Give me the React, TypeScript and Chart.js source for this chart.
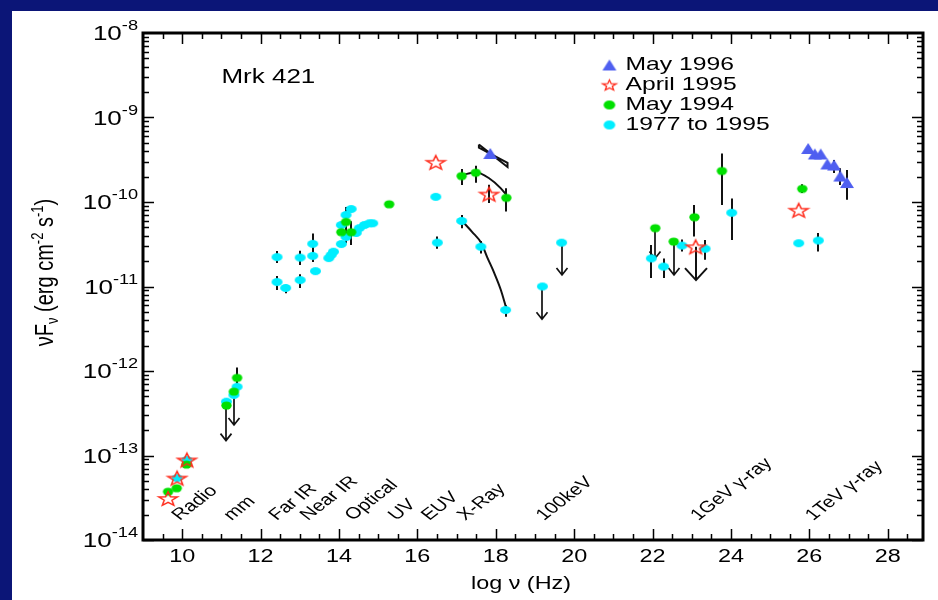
import React, { useEffect, useRef } from 'react';
import { Chart, registerables } from 'chart.js';

Chart.register(...registerables);

// ---------------- data ----------------
// May 1996 (blue triangles)
const may96X = [17.86, 25.97, 26.14, 26.29, 26.46, 26.63, 26.79, 26.96];
const may96Y = [3.75e-10, 4.3e-10, 3.7e-10, 3.7e-10, 2.82e-10, 2.74e-10, 2.03e-10, 1.7e-10];

// April 1995 (red open stars)
const apr95X = [9.64, 9.87, 10.12, 16.47, 17.83, 23.1, 25.73];
const apr95Y = [3.1e-14, 5.4e-14, 8.85e-14, 2.95e-10, 1.24e-10, 2.95e-11, 8.0e-11];

// May 1994 (green)
const may94X = [9.64, 9.86, 10.11, 11.13, 11.32, 11.4, 14.06, 14.18, 14.31, 15.28, 17.13, 17.49, 18.27, 22.07, 22.54, 23.07, 23.77, 25.82];
const may94Y = [3.73e-14, 4.1e-14, 7.8e-14, 3.9e-13, 5.7e-13, 8.3e-13, 4.4e-11, 5.8e-11, 4.4e-11, 9.4e-11, 2.03e-10, 2.22e-10, 1.12e-10, 4.9e-11, 3.4e-11, 6.6e-11, 2.33e-10, 1.43e-10];

// 1977 to 1995 (cyan)
const histX = [9.87, 10.12, 11.13, 11.32, 11.4, 12.42, 12.42, 12.64, 13.01, 13.01, 13.33, 13.33, 13.4, 13.74, 13.8, 13.86, 14.06, 14.06, 14.18, 14.31, 14.18, 14.44, 14.52, 14.65, 14.78, 14.86, 16.47, 16.51, 17.13, 17.62, 18.25, 19.19, 19.68, 21.97, 22.28, 22.75, 23.34, 24.02, 25.73, 26.23];
const histY = [5.4e-14, 8.85e-14, 4.34e-13, 5.2e-13, 6.5e-13, 2.23e-11, 1.13e-11, 9.6e-12, 2.2e-11, 1.19e-11, 3.2e-11, 2.3e-11, 1.52e-11, 2.17e-11, 2.36e-11, 2.58e-11, 3.18e-11, 5.34e-11, 7.02e-11, 8.26e-11, 3.85e-11, 4.3e-11, 4.9e-11, 5.34e-11, 5.6e-11, 5.6e-11, 1.15e-10, 3.3e-11, 5.96e-11, 2.95e-11, 5.27e-12, 1.0e-11, 3.3e-11, 2.15e-11, 1.72e-11, 3.05e-11, 2.8e-11, 7.45e-11, 3.25e-11, 3.5e-11];

// error bars
const errX = [26.63, 26.79, 26.96, 17.83, 11.4, 14.18, 14.31, 17.13, 17.49, 18.27, 23.07, 23.77, 25.82, 12.42, 12.42, 12.64, 13.01, 13.01, 13.33, 13.33, 16.51, 17.13, 17.62, 18.25, 21.97, 22.28, 22.75, 23.34, 24.02, 26.23];
const errLo = [2.2e-10, 1.59e-10, 1.06e-10, 9.7e-11, 5.9e-13, 3.25e-11, 3.1e-11, 1.59e-10, 1.69e-10, 7.7e-11, 3.9e-11, 9.2e-11, 1.28e-10, 1.9e-11, 9.1e-12, 8.3e-12, 1.8e-11, 9.6e-12, 2.6e-11, 1.95e-11, 2.8e-11, 4.9e-11, 2.45e-11, 4.4e-12, 1.26e-11, 1.26e-11, 2.6e-11, 2.07e-11, 3.56e-11, 2.6e-11];
const errHi = [3.15e-10, 2.5e-10, 2.39e-10, 1.6e-10, 1.1e-12, 8.7e-11, 5.9e-11, 2.45e-10, 2.68e-10, 1.45e-10, 9.2e-11, 3.75e-10, 1.62e-10, 2.63e-11, 1.33e-11, 1.05e-11, 2.65e-11, 1.4e-11, 4.25e-11, 2.65e-11, 3.9e-11, 7.0e-11, 3.45e-11, 6.0e-12, 3.1e-11, 2.15e-11, 3.6e-11, 3.56e-11, 1.1e-10, 4.3e-11];

// upper-limit arrows
const limX = [11.13, 11.32, 19.19, 19.68, 22.07, 22.54, 23.1];
const limFrom = [4.34e-13, 5.2e-13, 1.0e-11, 3.3e-11, 4.9e-11, 3.4e-11, 2.95e-11];
const limTo = [1.5e-13, 2.3e-13, 4.1e-12, 1.37e-11, 2.15e-11, 1.37e-11, 1.19e-11];
const limBig = [false, false, false, false, false, false, true];

// model curves
const model94X = [17.15, 17.49, 17.83, 18.13, 18.27];
const model94Y = [2.09e-10, 2.25e-10, 1.91e-10, 1.45e-10, 1.21e-10];
const modelHistX = [17.19, 17.4, 17.63, 17.78, 17.96, 18.13, 18.26];
const modelHistY = [5.64e-11, 4.41e-11, 3.27e-11, 2.23e-11, 1.45e-11, 9.1e-12, 5.7e-12];
const bowX = [17.57, 18.3, 18.3, 17.57, 17.57];
const bowY = [4.8e-10, 2.6e-10, 2.9e-10, 4.4e-10, 4.8e-10];

// axis ticks
const xTickValues = [10, 12, 14, 16, 18, 20, 22, 24, 26, 28];
const yTickExp = [-14, -13, -12, -11, -10, -9, -8];

// legend & annotations
const legendLabels = ['May 1996', 'April 1995', 'May 1994', '1977 to 1995'];
const bandLabels = ['Radio', 'mm', 'Far IR', 'Near IR', 'Optical', 'UV', 'EUV', 'X-Ray', '100keV', '1GeV \u03b3-ray', '1TeV \u03b3-ray'];
const bandX = [9.94, 11.26, 12.41, 13.21, 14.35, 15.46, 16.3, 17.22, 19.23, 23.17, 26.1];
const sourceName = 'Mrk 421';

// ---------------- styling ----------------
const SX = 1.3;
const FONT = '"Liberation Sans", Arial, Helvetica, sans-serif';
const BLUE = '#0b1577';
const C_TRI = '#4f5ff0';
const C_STAR = '#ff2a1a';
const C_GREEN = '#00e000';
const C_CYAN = '#00eeff';

function mkCanvas(w: number, h: number) {
  const c = document.createElement('canvas');
  c.width = w;
  c.height = h;
  return c;
}
function ellipseImg(color: string, rx: number, ry: number) {
  const w = Math.ceil(rx * 2) + 2, h = Math.ceil(ry * 2) + 2;
  const c = mkCanvas(w, h);
  const g = c.getContext('2d')!;
  g.fillStyle = color;
  g.beginPath();
  g.ellipse(w / 2, h / 2, rx, ry, 0, 0, Math.PI * 2);
  g.fill();
  return c;
}
function triangleImg(color: string, w: number, h: number) {
  const c = mkCanvas(w + 2, h + 2);
  const g = c.getContext('2d')!;
  g.fillStyle = color;
  g.beginPath();
  g.moveTo(1, h + 1);
  g.lineTo(w + 1, h + 1);
  g.lineTo(w / 2 + 1, 1);
  g.closePath();
  g.fill();
  return c;
}
function starImg(color: string, r: number, lw: number) {
  const w = Math.ceil(2 * r * SX) + 4, h = Math.ceil(2 * r) + 4;
  const c = mkCanvas(w, h);
  const g = c.getContext('2d')!;
  const cx = w / 2, cy = h / 2 + r * 0.1;
  g.strokeStyle = color;
  g.lineWidth = lw;
  g.lineJoin = 'miter';
  g.beginPath();
  for (let k = 0; k < 10; k++) {
    const a = -Math.PI / 2 + (k * Math.PI) / 5;
    const rad = k % 2 ? r * 0.42 : r;
    const px = cx + Math.cos(a) * rad * SX;
    const py = cy + Math.sin(a) * rad;
    if (k === 0) g.moveTo(px, py);
    else g.lineTo(px, py);
  }
  g.closePath();
  g.stroke();
  return c;
}

function sText(ctx: CanvasRenderingContext2D, s: string, x: number, y: number, size: number, align: CanvasTextAlign = 'left', baseline: CanvasTextBaseline = 'alphabetic') {
  ctx.save();
  ctx.translate(x, y);
  ctx.scale(SX, 1);
  ctx.font = `${size}px ${FONT}`;
  ctx.textAlign = align;
  ctx.textBaseline = baseline;
  ctx.fillStyle = '#000';
  ctx.fillText(s, 0, 0);
  ctx.restore();
}

type Run = [string, number, number];
function drawRuns(ctx: CanvasRenderingContext2D, runs: Run[], startX: number) {
  let x = startX;
  for (const [t, size, dy] of runs) {
    ctx.font = `${size}px ${FONT}`;
    ctx.fillText(t, x, dy);
    x += ctx.measureText(t).width;
  }
}
function runsWidth(ctx: CanvasRenderingContext2D, runs: Run[]) {
  let w = 0;
  for (const [t, size] of runs) {
    ctx.font = `${size}px ${FONT}`;
    w += ctx.measureText(t).width;
  }
  return w;
}

const pts = (xs: number[], ys: number[]) => xs.map((x, i) => ({ x, y: ys[i] }));

export default function App() {
  const ref = useRef<HTMLCanvasElement>(null);

  useEffect(() => {
    if (!ref.current) return;
    const triImg = triangleImg(C_TRI, 14, 11);
    const stImg = starImg(C_STAR, 7.5, 1.5);
    const stSmall = starImg(C_STAR, 5.5, 1.3);
    const grImg = ellipseImg(C_GREEN, 5.2, 4.1);
    const cyImg = ellipseImg(C_CYAN, 5.5, 4.0);
    const legendImgs = [triangleImg(C_TRI, 14, 11), stSmall, ellipseImg(C_GREEN, 5.8, 4.5), ellipseImg(C_CYAN, 5.8, 4.5)];

    const deco = {
      id: 'deco',
      beforeDraw(chart: any) {
        const ctx = chart.ctx as CanvasRenderingContext2D;
        ctx.save();
        ctx.fillStyle = BLUE;
        ctx.fillRect(0, 0, chart.width, chart.height);
        ctx.fillStyle = '#ffffff';
        ctx.fillRect(12, 11, chart.width - 12, chart.height - 11);
        ctx.restore();
      },
      beforeDatasetsDraw(chart: any) {
        const ctx = chart.ctx as CanvasRenderingContext2D;
        const xs = chart.scales.x, ys = chart.scales.y;
        ctx.save();
        ctx.strokeStyle = '#111';
        ctx.lineWidth = 2;
        for (let i = 0; i < errX.length; i++) {
          const px = Math.round(xs.getPixelForValue(errX[i]));
          ctx.beginPath();
          ctx.moveTo(px, ys.getPixelForValue(errLo[i]));
          ctx.lineTo(px, ys.getPixelForValue(errHi[i]));
          ctx.stroke();
        }
        for (let i = 0; i < limX.length; i++) {
          const px = Math.round(xs.getPixelForValue(limX[i]));
          const y0 = ys.getPixelForValue(limFrom[i]);
          const y1 = ys.getPixelForValue(limTo[i]);
          const hw = limBig[i] ? 11 : 5.5;
          const hh = limBig[i] ? 12 : 7;
          ctx.lineWidth = limBig[i] ? 2 : 1.7;
          ctx.beginPath();
          ctx.moveTo(px, y0);
          ctx.lineTo(px, y1);
          ctx.moveTo(px - hw, y1 - hh);
          ctx.lineTo(px, y1);
          ctx.lineTo(px + hw, y1 - hh);
          ctx.stroke();
        }
        ctx.restore();
      },
      afterDatasetsDraw(chart: any) {
        const ctx = chart.ctx as CanvasRenderingContext2D;
        const xs = chart.scales.x, ys = chart.scales.y;
        const a = chart.chartArea;
        ctx.save();
        // frame
        ctx.strokeStyle = '#000';
        ctx.lineWidth = 3;
        ctx.strokeRect(a.left, a.top, a.right - a.left, a.bottom - a.top);
        // x ticks (inward, bottom and top)
        ctx.lineWidth = 1.5;
        ctx.beginPath();
        for (let v = 9.5; v <= 28.9; v += 0.5) {
          const px = Math.round(xs.getPixelForValue(v)) + 0.5;
          const major = xTickValues.includes(v);
          const len = major ? 11 : 6;
          ctx.moveTo(px, a.bottom);
          ctx.lineTo(px, a.bottom - len);
          ctx.moveTo(px, a.top);
          ctx.lineTo(px, a.top + len);
        }
        // y ticks (inward, left and right)
        for (let e = -14; e < -8; e++) {
          for (let m = 1; m < 10; m++) {
            const py = Math.round(ys.getPixelForValue(m * Math.pow(10, e))) + 0.5;
            const len = m === 1 ? 11 : 6;
            ctx.moveTo(a.left, py);
            ctx.lineTo(a.left + len, py);
            ctx.moveTo(a.right, py);
            ctx.lineTo(a.right - len, py);
          }
        }
        ctx.stroke();

        // x tick labels
        for (const v of xTickValues) {
          sText(ctx, String(v), xs.getPixelForValue(v), a.bottom + 22, 18, 'center');
        }
        // y tick labels with superscripts
        ctx.fillStyle = '#000';
        for (const e of yTickExp) {
          const py = ys.getPixelForValue(Math.pow(10, e));
          const runs: Run[] = [['10', 20, 7], [String(e), 14, -3]];
          ctx.save();
          ctx.translate(a.left - 5, py);
          ctx.scale(SX, 1);
          ctx.textAlign = 'left';
          ctx.textBaseline = 'alphabetic';
          const w = runsWidth(ctx, runs);
          drawRuns(ctx, runs, -w);
          ctx.restore();
        }
        // x title
        sText(ctx, 'log \u03bd (Hz)', (a.left + a.right) / 2 - 12, 589, 18, 'center');
        // y title
        {
          const runs: Run[] = [['\u03bdF', 20, 0], ['\u03bd', 13, 4], [' (erg cm', 20, 0], ['-2', 13, -8], [' s', 20, 0], ['-1', 13, -8], [')', 20, 0]];
          ctx.save();
          ctx.translate(53, (a.top + a.bottom) / 2 - 14);
          ctx.rotate(-Math.PI / 2);
          ctx.scale(1, SX);
          ctx.textAlign = 'left';
          ctx.textBaseline = 'alphabetic';
          const w = runsWidth(ctx, runs);
          drawRuns(ctx, runs, -w / 2);
          ctx.restore();
        }
        // source name
        sText(ctx, sourceName, xs.getPixelForValue(11.0), ys.getPixelForValue(3.0e-9), 20, 'left', 'middle');
        // band labels
        const bandY = ys.getPixelForValue(1.68e-14);
        for (let i = 0; i < bandLabels.length; i++) {
          ctx.save();
          ctx.translate(xs.getPixelForValue(bandX[i]), bandY);
          ctx.scale(SX, 1);
          ctx.rotate(-Math.PI / 4);
          ctx.font = `16px ${FONT}`;
          ctx.fillStyle = '#000';
          ctx.textAlign = 'left';
          ctx.textBaseline = 'alphabetic';
          ctx.fillText(bandLabels[i], 0, 0);
          ctx.restore();
        }
        // legend
        const lx = xs.getPixelForValue(20.9);
        for (let i = 0; i < legendLabels.length; i++) {
          const ly = 65 + i * 20;
          const img = legendImgs[i];
          ctx.drawImage(img, lx - img.width / 2, ly - img.height / 2);
          sText(ctx, legendLabels[i], lx + 16, ly, 19, 'left', 'middle');
        }
        ctx.restore();
      },
    };

    const chart = new Chart(ref.current, {
      type: 'scatter',
      data: {
        datasets: [
          { label: 'May 1996', data: pts(may96X, may96Y), pointStyle: triImg as any, pointRadius: 6, order: 1 },
          { label: 'April 1995', data: pts(apr95X, apr95Y), pointStyle: stImg as any, pointRadius: 6, order: 2 },
          { label: 'May 1994', data: pts(may94X, may94Y), pointStyle: grImg as any, pointRadius: 5, order: 3 },
          { label: '1977 to 1995', data: pts(histX, histY), pointStyle: cyImg as any, pointRadius: 5, order: 4 },
          { label: 'model 1994', data: pts(model94X, model94Y), showLine: true, borderColor: '#111', borderWidth: 2, pointRadius: 0, tension: 0.4, cubicInterpolationMode: 'monotone', order: 6 } as any,
          { label: 'model hist', data: pts(modelHistX, modelHistY), showLine: true, borderColor: '#111', borderWidth: 2, pointRadius: 0, tension: 0.4, cubicInterpolationMode: 'monotone', order: 6 } as any,
          { label: 'bowtie', data: pts(bowX, bowY), showLine: true, borderColor: '#111', borderWidth: 2, pointRadius: 0, tension: 0, order: 5 } as any,
        ],
      },
      options: {
        responsive: false,
        devicePixelRatio: 1,
        animation: false,
        layout: { padding: { left: 143, top: 33, right: 15, bottom: 60 } },
        plugins: { legend: { display: false }, tooltip: { enabled: false } },
        events: [],
        scales: {
          x: { type: 'linear', min: 9, max: 28.9, display: false },
          y: { type: 'logarithmic', min: 1e-14, max: 1e-8, display: false },
        },
      },
      plugins: [deco],
    });
    return () => chart.destroy();
  }, []);

  return (
    <div style={{ position: 'fixed', left: 0, top: 0, width: 938, height: 600 }}>
      <canvas ref={ref} width={938} height={600} style={{ display: 'block', width: 938, height: 600 }} />
    </div>
  );
}
